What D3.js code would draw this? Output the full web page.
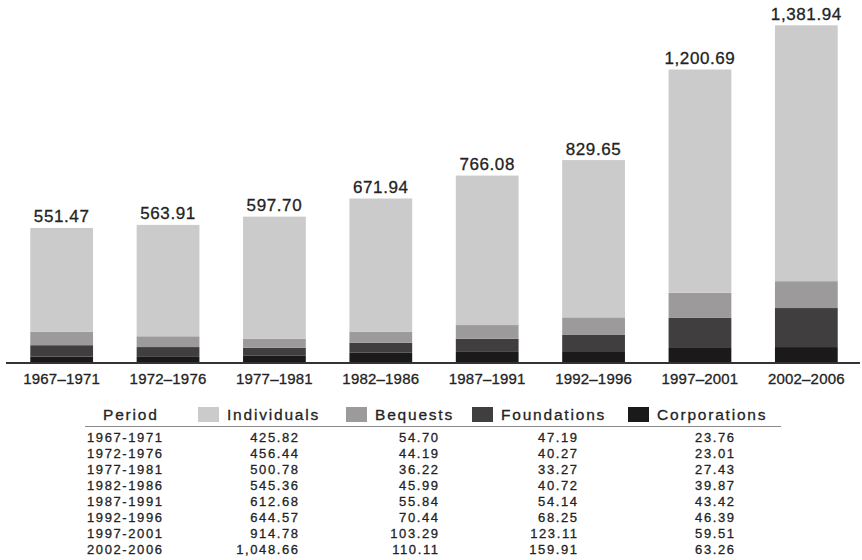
<!DOCTYPE html>
<html>
<head>
<meta charset="utf-8">
<script src="https://cdn.jsdelivr.net/npm/d3@7"></script>
<style>
  html, body { margin: 0; padding: 0; background: #fff; }
  svg { display: block; }
  text { font-family: "Liberation Sans", Arial, Helvetica, sans-serif; fill: #232323; stroke: #232323; stroke-width: 0.3px; }
</style>
</head>
<body>
<svg id="chart" width="862" height="560"></svg>
<script>
const periods = ["1967-1971","1972-1976","1977-1981","1982-1986","1987-1991","1992-1996","1997-2001","2002-2006"];
const seriesNames = ["Individuals","Bequests","Foundations","Corporations"];
const individuals  = [425.82, 456.44, 500.78, 545.36, 612.68, 644.57, 914.78, 1048.66];
const bequests     = [54.70, 44.19, 36.22, 45.99, 55.84, 70.44, 103.29, 110.11];
const foundations  = [47.19, 40.27, 33.27, 40.72, 54.14, 68.25, 123.11, 159.91];
const corporations = [23.76, 23.01, 27.43, 39.87, 43.42, 46.39, 59.51, 63.26];
const colors = ["#cbcbcb", "#9c9a9b", "#403e3f", "#1b191a"];

const rows = periods.map((p, i) => ({
  period: p,
  Individuals: individuals[i],
  Bequests: bequests[i],
  Foundations: foundations[i],
  Corporations: corporations[i]
}));

const svg = d3.select("#chart");

const x = d3.scaleBand().domain(periods).range([9, 859]).paddingInner(0.41).paddingOuter(0.2);
const y = d3.scaleLinear().domain([0, 1400]).range([362.5, 20.9]);
const color = d3.scaleOrdinal().domain(seriesNames).range(colors);

// stack from bottom: Corporations, Foundations, Bequests, Individuals
const stackOrder = ["Corporations","Foundations","Bequests","Individuals"];
const stacked = d3.stack().keys(stackOrder)(rows);

svg.append("g").selectAll("g")
  .data(stacked).join("g")
  .attr("fill", d => color(d.key))
  .selectAll("rect")
  .data(d => d).join("rect")
  .attr("x", d => x(d.data.period))
  .attr("width", x.bandwidth())
  .attr("y", d => y(d[1]))
  .attr("height", d => y(d[0]) - y(d[1]));

// totals above bars
const fmt = d3.format(",.2f");
svg.append("g").selectAll("text")
  .data(rows).join("text")
  .attr("x", d => x(d.period) + x.bandwidth() / 2)
  .attr("y", d => y(d.Individuals + d.Bequests + d.Foundations + d.Corporations) - 5.5)
  .attr("text-anchor", "middle")
  .style("font-size", "17px")
  .style("letter-spacing", "0.6px")
  .text(d => fmt(d.Individuals + d.Bequests + d.Foundations + d.Corporations));

// x axis
const xAxis = d3.axisBottom(x).tickSize(0).tickPadding(10).tickFormat(d => d.replace("-", "\u2013"));
const gx = svg.append("g").attr("transform", "translate(0,363)").call(xAxis);
gx.select(".domain").remove();
gx.selectAll("text")
  .style("font-size", "15px")
  .style("letter-spacing", "0.2px")
  .style("font-family", "'Liberation Sans', Arial, sans-serif")
  .attr("fill", "#232323")
  .attr("dy", "0.71em");
svg.append("line")
  .attr("x1", 6).attr("x2", 860)
  .attr("y1", 363).attr("y2", 363)
  .attr("stroke", "#333").attr("stroke-width", 2);

// table
const table = svg.append("g");
const headerY = 420;
table.append("text")
  .attr("x", 103).attr("y", headerY)
  .style("font-size", "15.5px").style("letter-spacing", "1.8px")
  .text("Period");

const swatchX = [198, 346, 472, 628];
seriesNames.forEach((name, k) => {
  table.append("rect")
    .attr("x", swatchX[k]).attr("y", 407)
    .attr("width", 21).attr("height", 15)
    .attr("fill", color(name));
  table.append("text")
    .attr("x", swatchX[k] + 29).attr("y", headerY)
    .style("font-size", "15.5px").style("letter-spacing", "1.8px")
    .text(name);
});

table.append("line")
  .attr("x1", 85).attr("x2", 781)
  .attr("y1", 426.5).attr("y2", 426.5)
  .attr("stroke", "#8a8a8a").attr("stroke-width", 1.2);

const rowY = d3.scalePoint().domain(periods).range([442, 554]);
const colRight = [298, 438, 577, 734];

const rowG = table.append("g").selectAll("g")
  .data(rows).join("g")
  .attr("transform", d => `translate(0,${rowY(d.period)})`);

rowG.append("text")
  .attr("x", 87)
  .style("font-size", "13px").style("letter-spacing", "1.6px")
  .text(d => d.period);

seriesNames.forEach((name, k) => {
  rowG.append("text")
    .attr("x", colRight[k] + 1.6)
    .attr("text-anchor", "end")
    .style("font-size", "13px").style("letter-spacing", "1.6px")
    .text(d => fmt(d[name]));
});
</script>
</body>
</html>
